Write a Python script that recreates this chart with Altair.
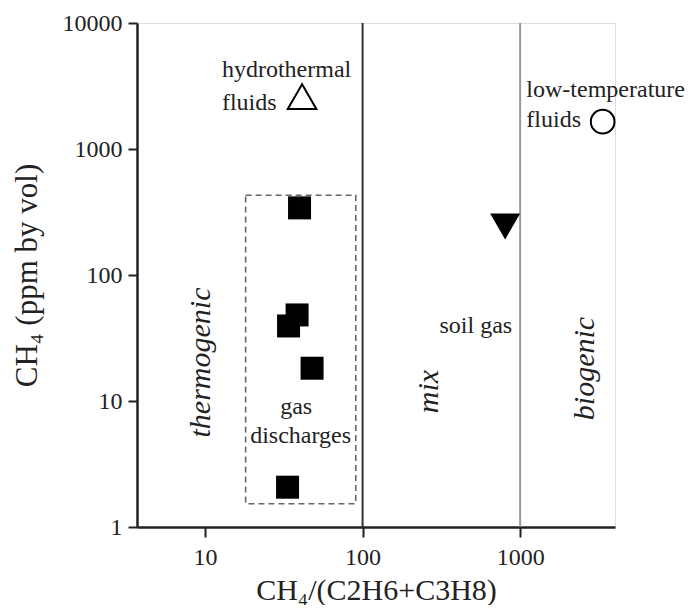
import altair as alt
import pandas as pd

# ---- data ----
gas_x = [39.8, 38.4, 33.9, 47.8, 33.4]
gas_y = [341, 48.2, 39.4, 18.2, 2.07]
hydro_x = [41.3]
hydro_y = [2606]
soil_x = [803]
soil_y = [243]
lowt_x = [3340]
lowt_y = [1648]
boundary_x = [100, 1000]
boundary_col = ["#333333", "#999999"]
box_x = [18.1]
box_x2 = [90.5]
box_y = [1.53]
box_y2 = [430]

x_ticks = [10, 100, 1000]
y_ticks = [1, 10, 100, 1000, 10000]

# annotations (text, x, y, align)
ann_text = ["hydrothermal", "fluids", "low-temperature", "fluids", "soil gas", "gas", "discharges"]
ann_x = [12.8, 12.8, 1095, 1095, 890, 37.9, 40.4]
ann_y = [3724, 2032, 2582, 1489, 34.4, 7.94, 4.67]
ann_align = ["left", "left", "left", "left", "right", "center", "center"]

zone_text = ["thermogenic", "mix", "biogenic"]
zone_x = [9.43, 264, 2588]
zone_y = [20.2, 11.9, 18.1]

FONT = "Liberation Serif"

xs = alt.Scale(type="log", domain=[3.7, 4000], nice=False)
ys = alt.Scale(type="log", domain=[1, 10000], nice=False)

xaxis = alt.Axis(values=x_ticks, format="d", title="CH\u2084/(C2H6+C3H8)", grid=False,
                 labelFont=FONT, labelFontSize=24, labelColor="#222", labelPadding=8,
                 tickSize=10, tickWidth=2, tickColor="#222", domainColor="#222", domainWidth=2.5,
                 titleFont=FONT, titleFontSize=30, titleFontWeight="normal", titleColor="#222",
                 titlePadding=6)
yaxis = alt.Axis(values=y_ticks, format="d", title="CH\u2084 (ppm by vol)", grid=False,
                 labelFont=FONT, labelFontSize=24, labelColor="#222", labelPadding=6,
                 tickSize=9, tickWidth=2, tickColor="#222", domainColor="#222", domainWidth=2.5,
                 titleFont=FONT, titleFontSize=31, titleFontWeight="normal", titleColor="#222",
                 titlePadding=19)

gas = pd.DataFrame({"x": gas_x, "y": gas_y})
hydro = pd.DataFrame({"x": hydro_x, "y": hydro_y})
soil = pd.DataFrame({"x": soil_x, "y": soil_y})
lowt = pd.DataFrame({"x": lowt_x, "y": lowt_y})
bnd = pd.DataFrame({"x": boundary_x, "c": boundary_col})
box = pd.DataFrame({"x": box_x, "x2": box_x2, "y": box_y, "y2": box_y2})
ann = pd.DataFrame({"t": ann_text, "x": ann_x, "y": ann_y, "a": ann_align})
zones = pd.DataFrame({"t": zone_text, "x": zone_x, "y": zone_y})

base_axes = alt.Chart(gas).mark_point(opacity=0).encode(
    x=alt.X("x:Q", scale=xs, axis=xaxis),
    y=alt.Y("y:Q", scale=ys, axis=yaxis),
)

rules = alt.Chart(bnd).mark_rule(strokeWidth=2).encode(
    x=alt.X("x:Q", scale=xs),
    color=alt.Color("c:N", scale=None),
)

rect = alt.Chart(box).mark_rect(fill=None, fillOpacity=0, stroke="#666", strokeWidth=1.6,
                                strokeDash=[6, 4]).encode(
    x=alt.X("x:Q", scale=xs), x2="x2:Q",
    y=alt.Y("y:Q", scale=ys), y2="y2:Q",
)

squares = alt.Chart(gas).mark_point(shape="square", filled=True, size=529, color="black",
                                    opacity=1).encode(
    x=alt.X("x:Q", scale=xs), y=alt.Y("y:Q", scale=ys))

tri_up = alt.Chart(hydro).mark_point(shape="triangle-up", filled=False, size=820, color="black",
                                     strokeWidth=2, opacity=1).encode(
    x=alt.X("x:Q", scale=xs), y=alt.Y("y:Q", scale=ys))

tri_down = alt.Chart(soil).mark_point(shape="triangle-down", filled=True, size=900, color="black",
                                      opacity=1).encode(
    x=alt.X("x:Q", scale=xs), y=alt.Y("y:Q", scale=ys))

circ = alt.Chart(lowt).mark_point(shape="circle", filled=False, size=560, color="black",
                                  strokeWidth=2, opacity=1).encode(
    x=alt.X("x:Q", scale=xs), y=alt.Y("y:Q", scale=ys))

texts = []
for al in ["left", "right", "center"]:
    texts.append(
        alt.Chart(ann).transform_filter(alt.datum.a == al).mark_text(
            font=FONT, fontSize=24, color="#222", align=al, baseline="alphabetic").encode(
            x=alt.X("x:Q", scale=xs), y=alt.Y("y:Q", scale=ys), text="t:N")
    )

zone_lbl = alt.Chart(zones).mark_text(font=FONT, fontSize=30, fontStyle="italic", color="#222",
                                      angle=270, align="center", baseline="middle").encode(
    x=alt.X("x:Q", scale=xs), y=alt.Y("y:Q", scale=ys), text="t:N")

chart = alt.layer(base_axes, rules, rect, squares, tri_up, tri_down, circ, *texts, zone_lbl).properties(
    width=478, height=504,
    autosize=alt.AutoSizeParams(type="none"),
    padding={"left": 129, "top": 15, "right": 71, "bottom": 78},
).configure_view(stroke="#aaaaaa", strokeWidth=1.5).configure(background="white")

chart.save("out.html", embed_options={"renderer": "svg", "actions": False})
